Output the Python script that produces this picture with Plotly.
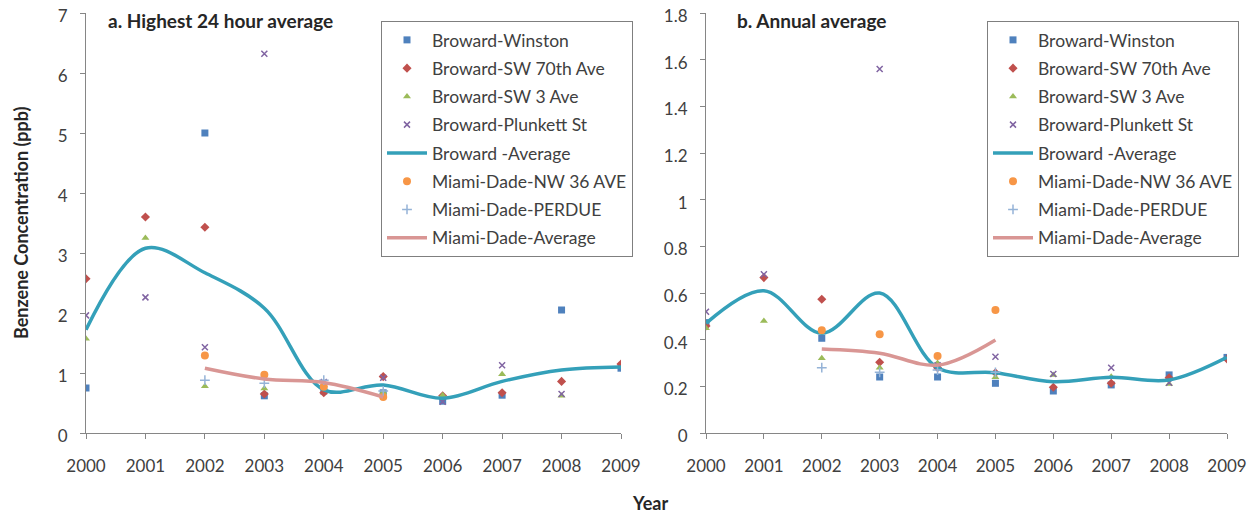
import plotly.graph_objects as go

years = [2000, 2001, 2002, 2003, 2004, 2005, 2006, 2007, 2008, 2009]

# a. Highest 24 hour average (ppb)
winston_a = [0.75, None, 5.0, 0.62, 0.70, 0.67, 0.53, 0.63, 2.05, 1.08]
sw70_a = [2.57, 3.60, 3.43, 0.65, 0.67, 0.94, 0.62, 0.67, 0.86, 1.15]
sw3_a = [1.57, 3.25, 0.78, 0.74, 0.80, 0.68, 0.63, 0.98, 0.62, None]
plunkett_a = [1.96, 2.26, 1.43, 6.32, 0.85, 0.92, 0.52, 1.13, 0.65, None]
broward_avg_a = [1.72, 3.08, 2.67, 2.08, 0.72, 0.80, 0.58, 0.86, 1.05, 1.10]
nw36_a = [None, None, 1.29, 0.97, 0.77, 0.60, None, None, None, None]
perdue_a = [None, None, 0.88, 0.83, 0.88, 0.70, None, None, None, None]
miami_avg_a = [None, None, 1.08, 0.90, 0.84, 0.60, None, None, None, None]

# b. Annual average (ppb)
winston_b = [0.473, None, 0.406, 0.24, 0.24, 0.213, 0.18, 0.206, 0.249, 0.324]
sw70_b = [0.459, 0.666, 0.573, 0.303, 0.28, 0.258, 0.196, 0.213, 0.237, 0.317]
sw3_b = [0.449, 0.48, 0.32, 0.28, 0.30, 0.239, 0.249, 0.241, 0.21, None]
plunkett_b = [0.52, 0.68, None, 1.56, 0.29, 0.327, 0.253, 0.28, 0.215, None]
broward_avg_b = [0.47, 0.61, 0.427, 0.60, 0.28, 0.258, 0.22, 0.239, 0.227, 0.324]
nw36_b = [None, None, 0.44, 0.423, 0.33, 0.527, None, None, None, None]
perdue_b = [None, None, 0.28, 0.26, 0.27, 0.26, None, None, None, None]
miami_avg_b = [None, None, 0.36, 0.342, 0.291, 0.399, None, None, None, None]

names = ["Broward-Winston", "Broward-SW 70th Ave", "Broward-SW 3 Ave", "Broward-Plunkett St",
         "Broward -Average", "Miami-Dade-NW 36 AVE", "Miami-Dade-PERDUE", "Miami-Dade-Average"]

styles = [
    dict(mode="markers", marker=dict(symbol="square", size=7, color="#4F81BD")),
    dict(mode="markers", marker=dict(symbol="diamond", size=7, color="#C0504D")),
    dict(mode="markers", marker=dict(symbol="triangle-up", size=7, color="#9BBB59")),
    dict(mode="markers", marker=dict(symbol="x-thin", size=6, color="#8064A2",
                                     line=dict(width=1.5, color="#8064A2"))),
    dict(mode="lines", line=dict(color="#34A0B9", width=3.5, shape="spline", smoothing=1)),
    dict(mode="markers", marker=dict(symbol="circle", size=8, color="#F79646")),
    dict(mode="markers", marker=dict(symbol="cross-thin", size=7, color="#95B3D7",
                                     line=dict(width=1.5, color="#95B3D7"))),
    dict(mode="lines", line=dict(color="#D99694", width=3.5, shape="spline", smoothing=1)),
]

panel_a = [winston_a, sw70_a, sw3_a, plunkett_a, broward_avg_a, nw36_a, perdue_a, miami_avg_a]
panel_b = [winston_b, sw70_b, sw3_b, plunkett_b, broward_avg_b, nw36_b, perdue_b, miami_avg_b]

fig = go.Figure()

for i, (nm, ys) in enumerate(zip(names, panel_a)):
    fig.add_trace(go.Scatter(x=years, y=ys, name=nm, xaxis="x", yaxis="y",
                             legend="legend", legendgroup=f"a{i}", connectgaps=False,
                             **styles[i]))
for i, (nm, ys) in enumerate(zip(names, panel_b)):
    fig.add_trace(go.Scatter(x=years, y=ys, name=nm, xaxis="x2", yaxis="y2",
                             legend="legend2", legendgroup=f"b{i}", connectgaps=False,
                             **styles[i]))

# page body has an 8px margin, so the figure is drawn 8px in from the top-left
OFF = 8
W, H = 1257 - OFF, 516 - OFF
font = "Lato, 'Open Sans', sans-serif"

def px_x(p):
    return (p - OFF) / W

def px_y(p):
    return 1 - (p - OFF) / H

axis_common = dict(showgrid=False, zeroline=False, showline=True, linecolor="#868686",
                   linewidth=1.2, ticks="outside", ticklen=5, tickcolor="#868686",
                   tickfont=dict(size=17, color="#404040", family=font), automargin=False,
                   ticklabeloverflow="allow")

legend_common = dict(xanchor="left", yanchor="top", bordercolor="#7F7F7F", borderwidth=1,
                     bgcolor="white", font=dict(size=17.5, color="#404040", family=font),
                     tracegroupgap=2.5, itemwidth=40)

fig.update_layout(
    width=W, height=H,
    margin=dict(l=0, r=0, t=0, b=0),
    plot_bgcolor="white", paper_bgcolor="white",
    font=dict(family=font, color="#404040"),
    xaxis=dict(domain=[px_x(86), px_x(621)], range=[2000, 2009], dtick=1, anchor="y",
               ticklabelstandoff=12, **axis_common),
    yaxis=dict(domain=[px_y(433), px_y(13)], range=[0, 7], dtick=1, anchor="x",
               ticklabelshift=3, ticklabelstandoff=9, **axis_common),
    xaxis2=dict(domain=[px_x(706), px_x(1227)], range=[2000, 2009], dtick=1, anchor="y2",
                ticklabelstandoff=12, **axis_common),
    yaxis2=dict(domain=[px_y(433), px_y(13)], range=[0, 1.8], dtick=0.2, anchor="x2",
                ticklabelshift=3, ticklabelstandoff=9, **axis_common),
    legend=dict(x=px_x(381), y=px_y(21), **legend_common),
    legend2=dict(x=px_x(987), y=px_y(21), **legend_common),
    annotations=[
        dict(text="<b>a. Highest 24 hour average</b>", x=px_x(107), y=1,
             xref="paper", yref="paper", xanchor="left", yanchor="top", showarrow=False,
             borderpad=0, font=dict(size=19, color="#262626", family=font)),
        dict(text="<b>b. Annual average</b>", x=px_x(736), y=1,
             xref="paper", yref="paper", xanchor="left", yanchor="top", showarrow=False,
             borderpad=0, font=dict(size=19, color="#262626", family=font)),
        dict(text="<b>Benzene Concentration (ppb)</b>", x=px_x(21), y=px_y(223),
             xref="paper", yref="paper", xanchor="center", yanchor="middle", showarrow=False,
             textangle=-90, font=dict(size=18, color="#262626", family=font)),
        dict(text="<b>Year</b>", x=px_x(650), y=px_y(503),
             xref="paper", yref="paper", xanchor="center", yanchor="middle", showarrow=False,
             font=dict(size=18, color="#262626", family=font)),
    ],
)

fig.write_html("out.html")
